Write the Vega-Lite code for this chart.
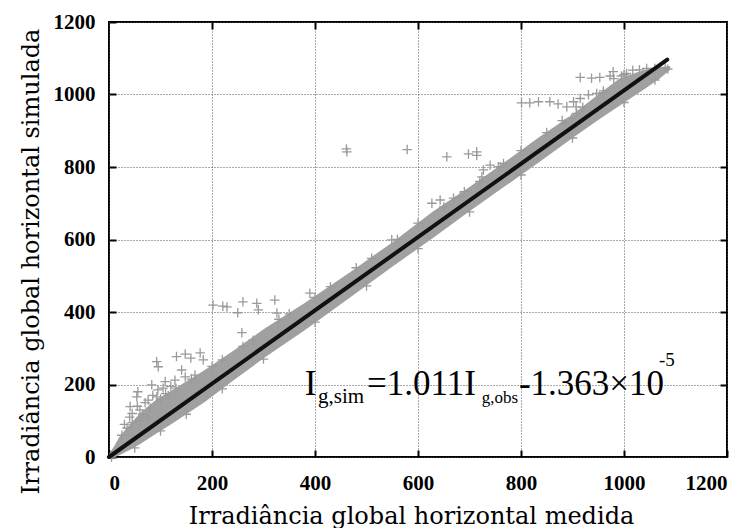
{
  "$schema": "https://vega.github.io/schema/vega-lite/v6.json",
  "width": 618,
  "height": 435,
  "autosize": {"type": "none"},
  "padding": {"left": 109, "top": 22, "right": 27, "bottom": 71},
  "background": "white",
  "config": {
    "view": {"stroke": "black", "strokeWidth": 2},
    "axis": {
      "labelFont": "Liberation Serif",
      "labelFontWeight": "bold",
      "labelFontSize": 21,
      "labelColor": "black",
      "format": "d",
      "titleFont": "DejaVu Serif",
      "titleFontWeight": "normal",
      "titleFontSize": 24,
      "titleColor": "black",
      "domain": false,
      "tickColor": "black",
      "tickWidth": 2,
      "tickSize": -7,
      "gridColor": "#555",
      "gridDash": [1, 2],
      "gridWidth": 1
    }
  },
  "datasets": {
    "band": [
      {"x": 0, "lo": 0, "hi": 8},
      {"x": 10, "lo": 0, "hi": 30},
      {"x": 20, "lo": 5, "hi": 55},
      {"x": 40, "lo": 19, "hi": 90},
      {"x": 60, "lo": 35, "hi": 120},
      {"x": 89, "lo": 62, "hi": 155},
      {"x": 120, "lo": 90, "hi": 182},
      {"x": 150, "lo": 118, "hi": 208},
      {"x": 186, "lo": 152, "hi": 240},
      {"x": 240, "lo": 210, "hi": 292},
      {"x": 303, "lo": 275, "hi": 355},
      {"x": 380, "lo": 350, "hi": 425},
      {"x": 468, "lo": 440, "hi": 510},
      {"x": 550, "lo": 525, "hi": 592},
      {"x": 629, "lo": 604, "hi": 677},
      {"x": 700, "lo": 678, "hi": 745},
      {"x": 770, "lo": 748, "hi": 815},
      {"x": 837, "lo": 815, "hi": 884},
      {"x": 900, "lo": 880, "hi": 945},
      {"x": 950, "lo": 930, "hi": 1000},
      {"x": 992, "lo": 970, "hi": 1045},
      {"x": 1040, "lo": 1015, "hi": 1068},
      {"x": 1070, "lo": 1045, "hi": 1075},
      {"x": 1090, "lo": 1068, "hi": 1078}
    ],
    "cross": [
      {"x": 92.6, "y": 263}, {"x": 95.6, "y": 249}, {"x": 131, "y": 277}, {"x": 148, "y": 284},
      {"x": 159, "y": 273}, {"x": 177, "y": 287}, {"x": 183, "y": 268}, {"x": 141, "y": 240},
      {"x": 148, "y": 221}, {"x": 128, "y": 212}, {"x": 109, "y": 208}, {"x": 83, "y": 199},
      {"x": 56, "y": 180}, {"x": 54, "y": 166}, {"x": 41, "y": 139}, {"x": 76, "y": 157},
      {"x": 93, "y": 166}, {"x": 167, "y": 226}, {"x": 202, "y": 419}, {"x": 221, "y": 416},
      {"x": 229, "y": 414}, {"x": 260, "y": 428}, {"x": 250, "y": 398}, {"x": 287, "y": 424},
      {"x": 290, "y": 406}, {"x": 258, "y": 343}, {"x": 322, "y": 433}, {"x": 326, "y": 397},
      {"x": 390, "y": 452}, {"x": 461, "y": 850}, {"x": 462, "y": 842}, {"x": 579, "y": 848},
      {"x": 656, "y": 828}, {"x": 627, "y": 700}, {"x": 643, "y": 709}, {"x": 549, "y": 599},
      {"x": 698, "y": 836}, {"x": 714, "y": 842}, {"x": 714, "y": 832}, {"x": 801, "y": 977},
      {"x": 817, "y": 977}, {"x": 834, "y": 980}, {"x": 856, "y": 980}, {"x": 872, "y": 974},
      {"x": 889, "y": 966}, {"x": 902, "y": 980}, {"x": 907, "y": 966}, {"x": 915, "y": 989},
      {"x": 931, "y": 999}, {"x": 947, "y": 1003}, {"x": 960, "y": 1005}, {"x": 915, "y": 1047},
      {"x": 937, "y": 1045}, {"x": 953, "y": 1047}, {"x": 973, "y": 1051}, {"x": 980, "y": 1044},
      {"x": 995, "y": 1051}, {"x": 1005, "y": 1058}, {"x": 908, "y": 948}, {"x": 898, "y": 934},
      {"x": 885, "y": 920}, {"x": 740, "y": 805}, {"x": 727, "y": 792}, {"x": 724, "y": 773},
      {"x": 756, "y": 801}, {"x": 766, "y": 810}, {"x": 669, "y": 714}, {"x": 682, "y": 718},
      {"x": 979, "y": 1063}, {"x": 1017, "y": 1067}, {"x": 1044, "y": 1072},
      {"x": 25, "y": 60}, {"x": 35, "y": 80}, {"x": 45, "y": 95}, {"x": 65, "y": 118},
      {"x": 80, "y": 135}, {"x": 100, "y": 160}, {"x": 115, "y": 170}, {"x": 130, "y": 190},
      {"x": 160, "y": 215}, {"x": 200, "y": 250}, {"x": 220, "y": 268}, {"x": 260, "y": 305},
      {"x": 280, "y": 322}, {"x": 330, "y": 380}, {"x": 350, "y": 395}, {"x": 400, "y": 440},
      {"x": 430, "y": 470}, {"x": 480, "y": 522}, {"x": 510, "y": 548}, {"x": 560, "y": 600},
      {"x": 600, "y": 645}, {"x": 650, "y": 690}, {"x": 690, "y": 732}, {"x": 720, "y": 760},
      {"x": 760, "y": 800}, {"x": 800, "y": 845}, {"x": 850, "y": 895}, {"x": 880, "y": 928},
      {"x": 920, "y": 965}, {"x": 960, "y": 1010}, {"x": 1000, "y": 1055}, {"x": 1030, "y": 1068},
      {"x": 1060, "y": 1072}, {"x": 1080, "y": 1075},
      {"x": 5, "y": 0}, {"x": 50, "y": 25}, {"x": 100, "y": 72}, {"x": 150, "y": 118},
      {"x": 220, "y": 188}, {"x": 300, "y": 270}, {"x": 400, "y": 372}, {"x": 500, "y": 472},
      {"x": 600, "y": 575}, {"x": 700, "y": 676}, {"x": 800, "y": 778}, {"x": 900, "y": 880},
      {"x": 1000, "y": 978}, {"x": 1060, "y": 1040}, {"x": 1085, "y": 1070},
      {"x": 30, "y": 90}, {"x": 45, "y": 120}, {"x": 55, "y": 140}, {"x": 60, "y": 130},
      {"x": 70, "y": 150}, {"x": 85, "y": 170}, {"x": 95, "y": 185}, {"x": 105, "y": 190},
      {"x": 110, "y": 175}, {"x": 120, "y": 195}, {"x": 60, "y": 100}, {"x": 40, "y": 110},
      {"x": 75, "y": 110}
    ],
    "fit": [
      {"x": 0, "y": 0},
      {"x": 1084, "y": 1096}
    ],
    "bigtext": [
      {"x": 380, "y": 171, "t": "I"},
      {"x": 501, "y": 171, "t": "=1.011I"},
      {"x": 796, "y": 171, "t": "-1.363×10"}
    ],
    "subtext1": [
      {"x": 406, "y": 149, "t": "g,sim"}
    ],
    "subtext2": [
      {"x": 724, "y": 149, "t": "g,obs"}
    ],
    "suptext": [
      {"x": 1068, "y": 251, "t": "-5"}
    ]
  },
  "resolve": {"axis": {"x": "independent", "y": "independent"}},
  "layer": [
    {
      "data": {"name": "band"},
      "mark": {"type": "area", "color": "#a0a0a0", "opacity": 1},
      "encoding": {
        "x": {
          "field": "x", "type": "quantitative",
          "scale": {"domain": [0, 1200], "nice": false, "zero": false},
          "axis": {
            "values": [0, 200, 400, 600, 800, 1000, 1200],
            "grid": true,
            "labelPadding": 22,
            "title": "Irradiância global horizontal medida",
            "titleX": 302, "titleY": 66, "titleBaseline": "alphabetic", "titleAnchor": null
          }
        },
        "y": {
          "field": "lo", "type": "quantitative",
          "scale": {"domain": [0, 1200], "nice": false, "zero": false},
          "axis": {
            "values": [0, 200, 400, 600, 800, 1000, 1200],
            "grid": true,
            "labelPadding": 21,
            "title": "Irradiância global horizontal simulada",
            "titleX": -71, "titleY": 239, "titleBaseline": "alphabetic", "titleAngle": -90
          }
        },
        "y2": {"field": "hi"}
      }
    },
    {
      "data": {"name": "cross"},
      "mark": {"type": "point", "shape": "M-1,0L1,0M0,-1L0,1", "filled": false, "stroke": "#9a9a9a", "strokeWidth": 1.3, "size": 90, "opacity": 1},
      "encoding": {
        "x": {"field": "x", "type": "quantitative", "axis": null},
        "y": {"field": "y", "type": "quantitative", "axis": null}
      }
    },
    {
      "data": {"name": "fit"},
      "mark": {"type": "line", "color": "#111", "strokeWidth": 4, "strokeCap": "round"},
      "encoding": {
        "x": {"field": "x", "type": "quantitative", "axis": {"orient": "top", "values": [200, 400, 600, 800, 1000], "labels": false, "grid": false, "title": null}},
        "y": {"field": "y", "type": "quantitative", "axis": {"orient": "right", "values": [200, 400, 600, 800, 1000], "labels": false, "grid": false, "title": null}}
      }
    },
    {
      "data": {"name": "bigtext"},
      "mark": {"type": "text", "font": "Liberation Serif", "fontSize": 35, "align": "left", "baseline": "alphabetic", "color": "black"},
      "encoding": {
        "x": {"field": "x", "type": "quantitative", "axis": null},
        "y": {"field": "y", "type": "quantitative", "axis": null},
        "text": {"field": "t"}
      }
    },
    {
      "data": {"name": "subtext1"},
      "mark": {"type": "text", "font": "Liberation Serif", "fontSize": 21, "align": "left", "baseline": "alphabetic", "color": "black"},
      "encoding": {
        "x": {"field": "x", "type": "quantitative", "axis": null},
        "y": {"field": "y", "type": "quantitative", "axis": null},
        "text": {"field": "t"}
      }
    },
    {
      "data": {"name": "subtext2"},
      "mark": {"type": "text", "font": "Liberation Serif", "fontSize": 17, "align": "left", "baseline": "alphabetic", "color": "black"},
      "encoding": {
        "x": {"field": "x", "type": "quantitative", "axis": null},
        "y": {"field": "y", "type": "quantitative", "axis": null},
        "text": {"field": "t"}
      }
    },
    {
      "data": {"name": "suptext"},
      "mark": {"type": "text", "font": "Liberation Serif", "fontSize": 19, "align": "left", "baseline": "alphabetic", "color": "black"},
      "encoding": {
        "x": {"field": "x", "type": "quantitative", "axis": null},
        "y": {"field": "y", "type": "quantitative", "axis": null},
        "text": {"field": "t"}
      }
    }
  ]
}
